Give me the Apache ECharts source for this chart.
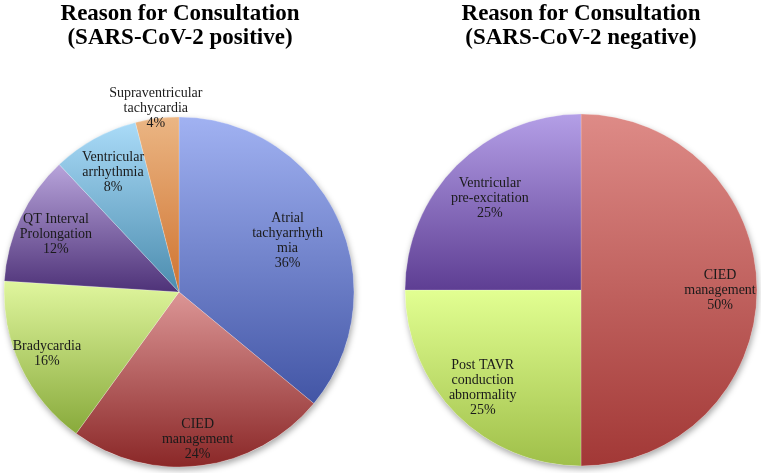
<!DOCTYPE html>
<html>
<head>
<meta charset="utf-8">
<script src="https://cdn.jsdelivr.net/npm/echarts@6/dist/echarts.min.js"></script>
<style>
html,body{margin:0;padding:0;background:#fff;}
#chart{width:761px;height:473px;}
</style>
</head>
<body>
<div id="chart"></div>
<script>
// ---- data ----
const leftTitle = 'Reason for Consultation\n(SARS-CoV-2 positive)';
const rightTitle = 'Reason for Consultation\n(SARS-CoV-2 negative)';
const leftCategories = ['Atrial\ntachyarrhyth\nmia', 'CIED\nmanagement', 'Bradycardia', 'QT Interval\nProlongation', 'Ventricular\narrhythmia', 'Supraventricular\ntachycardia'];
const leftValues = [36, 24, 16, 12, 8, 4];
const rightCategories = ['CIED\nmanagement', 'Post TAVR\nconduction\nabnormality', 'Ventricular\npre-excitation'];
const rightValues = [50, 25, 25];

// ---- styles ----
const leftColors = [['#a1b2f2', '#4255a5'], ['#dc9696', '#8a2727'], ['#e0f69e', '#88aa3b'], ['#b8a4db', '#4e3278'], ['#aadbf8', '#4b8cae'], ['#ebb684', '#cf7330']];
const rightColors = [['#de8b87', '#a23836'], ['#e2ff92', '#9fbf49'], ['#b49fe7', '#5e3e93']];
const leftLabelDist = [117, 146, 143, 133, 134, 182];
const rightLabelDist = [136, 136, 126];
const leftCenter = [179, 292], rightCenter = [581, 290];
const leftR = 175, rightR = 176;
const font = '"Liberation Serif", "DejaVu Serif", serif';

function grad(c) {
  return { type: 'linear', x: 0, y: 0, x2: 0, y2: 1, colorStops: [{ offset: 0, color: c[0] }, { offset: 1, color: c[1] }] };
}
function pieData(cats, vals, colors) {
  return cats.map((n, i) => ({ name: n, value: vals[i], itemStyle: colors ? { color: grad(colors[i]) } : undefined }));
}
function mainPie(center, r, cats, vals, colors) {
  return {
    type: 'pie', center: center, radius: [0, r], startAngle: 90, clockwise: true,
    silent: true, animation: false, z: 2,
    label: { show: false }, labelLine: { show: false },
    itemStyle: { borderColor: 'rgba(255,255,255,0.35)', borderWidth: 0.6 },
    data: pieData(cats, vals, colors)
  };
}
function shadowPie(center, r) {
  return {
    type: 'pie', center: center, radius: [0, r], silent: true, animation: false, z: 1,
    label: { show: false }, labelLine: { show: false },
    itemStyle: { color: '#fff', shadowBlur: 6, shadowOffsetY: 3, shadowOffsetX: 1, shadowColor: 'rgba(0,0,0,0.35)' },
    data: [{ name: '', value: 1 }]
  };
}
function labelPies(center, cats, vals, dists) {
  return dists.map((d, k) => ({
    type: 'pie', center: center, radius: [d - 10, d + 10], startAngle: 90, clockwise: true,
    silent: true, animation: false, z: 5,
    itemStyle: { color: 'rgba(0,0,0,0)' },
    labelLine: { show: false },
    label: {
      show: true, position: 'inside', formatter: '{b}\n{c}%',
      fontFamily: font, fontSize: 14, lineHeight: 15, color: '#1a1a1a', align: 'center'
    },
    data: cats.map((n, i) => ({ name: n, value: vals[i], label: { show: i === k } }))
  }));
}

const chart = echarts.init(document.getElementById('chart'), null, { renderer: 'canvas' });
const titleStyle = { fontFamily: font, fontSize: 23, fontWeight: 'bold', lineHeight: 24, color: '#000' };
chart.setOption({
  backgroundColor: '#ffffff',
  title: [
    { text: leftTitle, left: 180, top: 2, padding: 0, textAlign: 'center', textStyle: titleStyle },
    { text: rightTitle, left: 581, top: 2, padding: 0, textAlign: 'center', textStyle: titleStyle }
  ],
  series: [
    shadowPie(leftCenter, leftR),
    shadowPie(rightCenter, rightR),
    mainPie(leftCenter, leftR, leftCategories, leftValues, leftColors),
    mainPie(rightCenter, rightR, rightCategories, rightValues, rightColors)
  ].concat(labelPies(leftCenter, leftCategories, leftValues, leftLabelDist))
   .concat(labelPies(rightCenter, rightCategories, rightValues, rightLabelDist))
});
</script>
</body>
</html>
